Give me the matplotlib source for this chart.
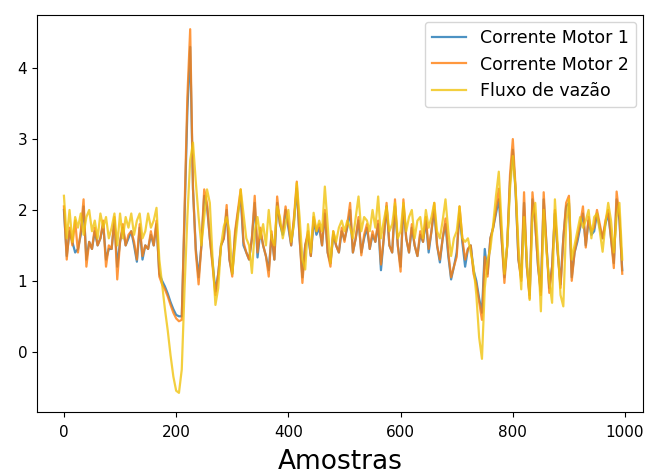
import matplotlib
matplotlib.use("Agg")
import matplotlib.pyplot as plt
import numpy as np

samples = list(range(0, 1000, 5))

motor2 = [
    2.05, 1.30, 1.75, 1.50, 1.85, 1.40, 1.70, 2.15, 1.20, 1.55,
    1.45, 1.75, 1.50, 1.60, 1.85, 1.20, 1.50, 1.45, 1.90, 1.02,
    1.55, 1.80, 1.50, 1.65, 1.70, 1.55, 1.30, 1.80, 1.35, 1.50,
    1.45, 1.70, 1.50, 1.85, 1.06, 0.95, 0.88, 0.78, 0.66, 0.55,
    0.47, 0.43, 0.45, 2.00, 3.60, 4.55, 2.30, 1.40, 0.95, 1.50,
    2.29, 2.10, 1.60, 1.20, 0.80, 1.10, 1.50, 1.60, 2.07, 1.30,
    1.06, 1.70, 2.00, 2.29, 1.55, 1.40, 1.30, 1.60, 2.20, 1.40,
    1.75, 1.50, 1.35, 1.06, 1.70, 1.30, 2.19, 1.80, 1.70, 2.05,
    1.80, 1.50, 1.90, 2.40, 1.60, 0.97, 1.50, 1.70, 1.35, 1.90,
    1.70, 1.80, 1.50, 2.00, 1.40, 1.20, 1.70, 1.50, 1.40, 1.75,
    1.55, 1.80, 2.10, 1.40, 1.60, 1.90, 1.36, 1.65, 1.80, 1.45,
    1.70, 1.55, 1.85, 1.23, 1.60, 2.10, 1.50, 1.40, 2.15, 1.50,
    1.13, 2.15, 1.60, 1.40, 1.80, 1.50, 1.35, 1.70, 1.55, 1.90,
    1.45, 1.70, 2.10, 1.50, 1.30, 1.60, 1.88, 1.40, 1.05, 1.20,
    1.34, 2.05, 1.60, 1.30, 1.45, 1.50, 1.10, 0.95, 0.70, 0.45,
    1.34, 1.06, 1.60, 1.75, 2.00, 2.30, 1.60, 0.97, 1.50, 2.50,
    3.00, 2.30, 1.30, 1.00, 2.25, 1.20, 0.75, 2.25, 1.80, 1.20,
    0.80, 2.25, 1.50, 0.83, 1.20, 2.00, 1.40, 0.90, 1.60, 2.10,
    2.20, 1.00, 1.40, 1.60, 1.80, 2.05, 1.47, 1.90, 1.70, 1.75,
    2.00, 1.80, 1.60, 1.85, 2.00, 1.60, 1.18, 2.26, 1.90, 1.10,
]

motor1 = [
    2.00, 1.35, 1.70, 1.55, 1.40, 1.45, 1.65, 2.05, 1.30, 1.55,
    1.45, 1.70, 1.50, 1.60, 1.80, 1.30, 1.45, 1.45, 1.85, 1.20,
    1.55, 1.75, 1.50, 1.60, 1.70, 1.50, 1.27, 1.75, 1.30, 1.50,
    1.45, 1.65, 1.50, 1.80, 1.10, 1.00, 0.92, 0.82, 0.70, 0.60,
    0.52, 0.50, 0.50, 1.90, 3.40, 4.30, 2.30, 1.45, 1.05, 1.50,
    2.20, 2.05, 1.60, 1.25, 0.85, 1.10, 1.50, 1.60, 2.00, 1.30,
    1.10, 1.65, 1.95, 2.20, 1.50, 1.40, 1.30, 1.60, 2.10, 1.33,
    1.70, 1.50, 1.35, 1.15, 1.65, 1.30, 2.10, 1.80, 1.65, 2.00,
    1.75, 1.50, 1.85, 2.30, 1.60, 1.05, 1.50, 1.65, 1.35, 1.85,
    1.65, 1.75, 1.50, 1.95, 1.40, 1.25, 1.65, 1.50, 1.40, 1.70,
    1.58, 1.75, 2.00, 1.40, 1.60, 1.85, 1.40, 1.60, 1.75, 1.45,
    1.65, 1.55, 1.80, 1.15, 1.60, 2.05, 1.50, 1.40, 2.05, 1.50,
    1.20, 2.05, 1.60, 1.40, 1.75, 1.50, 1.35, 1.65, 1.55, 1.85,
    1.40, 1.70, 2.00, 1.50, 1.26, 1.60, 1.80, 1.35, 1.02, 1.20,
    1.40, 1.95, 1.55, 1.20, 1.45, 1.50, 1.15, 1.00, 0.75, 0.55,
    1.45, 1.10, 1.60, 1.75, 1.95, 2.15, 1.60, 1.05, 1.50, 2.40,
    2.85, 2.25, 1.30, 1.05, 2.10, 1.20, 0.80, 2.15, 1.80, 1.20,
    0.85, 2.15, 1.50, 0.90, 1.20, 1.95, 1.40, 0.95, 1.60, 2.05,
    2.10, 1.05, 1.40, 1.55, 1.75, 1.95, 1.50, 1.85, 1.65, 1.70,
    1.95, 1.75, 1.60, 1.80, 1.95, 1.60, 1.25, 2.15, 1.85, 1.15,
]

fluxo = [
    2.20, 1.60, 2.00, 1.55, 1.90, 1.75, 1.95, 1.65, 1.90, 2.00,
    1.70, 1.85, 1.60, 1.95, 1.75, 1.90, 1.60, 1.75, 1.95, 1.50,
    1.95, 1.60, 1.90, 1.75, 1.95, 1.65, 1.85, 1.95, 1.60, 1.70,
    1.95, 1.75, 1.85, 2.03, 1.30, 0.95, 0.60, 0.30, -0.05, -0.35,
    -0.55, -0.58, -0.25, 0.90, 1.90, 2.70, 2.95, 2.40, 1.90, 1.50,
    1.90, 2.29, 2.10, 1.30, 0.66, 0.90, 1.50, 1.77, 1.90, 1.70,
    1.10, 1.50, 1.90, 2.29, 1.95, 1.60, 1.50, 1.11, 1.70, 1.90,
    1.60, 1.80, 1.50, 2.00, 1.60, 1.50, 2.05, 1.90, 1.60, 1.80,
    2.00, 1.55, 1.80, 2.38, 1.90, 1.30, 1.16, 1.80, 1.40, 1.96,
    1.70, 1.85, 1.70, 2.33, 1.80, 1.25, 1.70, 1.55, 1.75, 1.85,
    1.70, 1.85, 1.75, 1.60, 1.90, 2.19, 1.70, 1.90, 1.85, 1.70,
    2.00, 1.75, 2.19, 1.60, 1.85, 2.05, 1.70, 1.80, 2.10, 1.60,
    1.70, 2.10, 1.70, 1.90, 2.00, 1.60, 1.85, 1.90, 1.60, 2.00,
    1.75, 1.90, 2.10, 1.70, 1.60, 1.85, 2.15, 1.70, 1.35, 1.60,
    1.70, 2.05, 1.60, 1.55, 1.60, 1.40, 1.20, 0.80, 0.20, -0.10,
    0.90, 1.30, 1.45, 1.80, 2.20, 2.54, 1.80, 1.10, 1.50, 2.30,
    2.76, 2.30, 1.50, 0.88, 1.90, 1.30, 0.73, 1.90, 2.10, 1.40,
    0.57, 2.00, 1.40, 1.00, 0.69, 2.15, 1.50, 0.80, 0.64, 1.80,
    2.15, 1.30, 1.50, 1.70, 1.90, 1.75, 1.85, 2.00, 1.60, 1.90,
    1.95, 1.70, 1.41, 1.80, 2.10, 1.85, 1.40, 1.90, 2.10, 1.30,
]

labels = ["Corrente Motor 1", "Corrente Motor 2", "Fluxo de vazão"]
colors = ["#1f77b4", "#ff7f0e", "#f1c40f"]

fig = plt.figure(figsize=(6.46, 4.74), dpi=100)
ax = fig.add_axes([37 / 646, 1 - 412 / 474, 606 / 646, 397 / 474])
for data, lab, col in zip([motor1, motor2, fluxo], labels, colors):
    ax.plot(samples, data, color=col, alpha=0.8, lw=1.6, label=lab)

ax.set_xlim(-48, 1032)
ax.set_ylim(-0.85, 4.75)
ax.set_xticks([0, 200, 400, 600, 800, 1000])
ax.set_yticks([0, 1, 2, 3, 4])
ax.tick_params(labelsize=11)
ax.tick_params(axis="x", pad=6)
ax.set_xlabel("Amostras", fontsize=19, labelpad=6)
ax.legend(loc="upper right", fontsize=12.5, borderaxespad=0.4)
fig.savefig("out.png", dpi=100)
